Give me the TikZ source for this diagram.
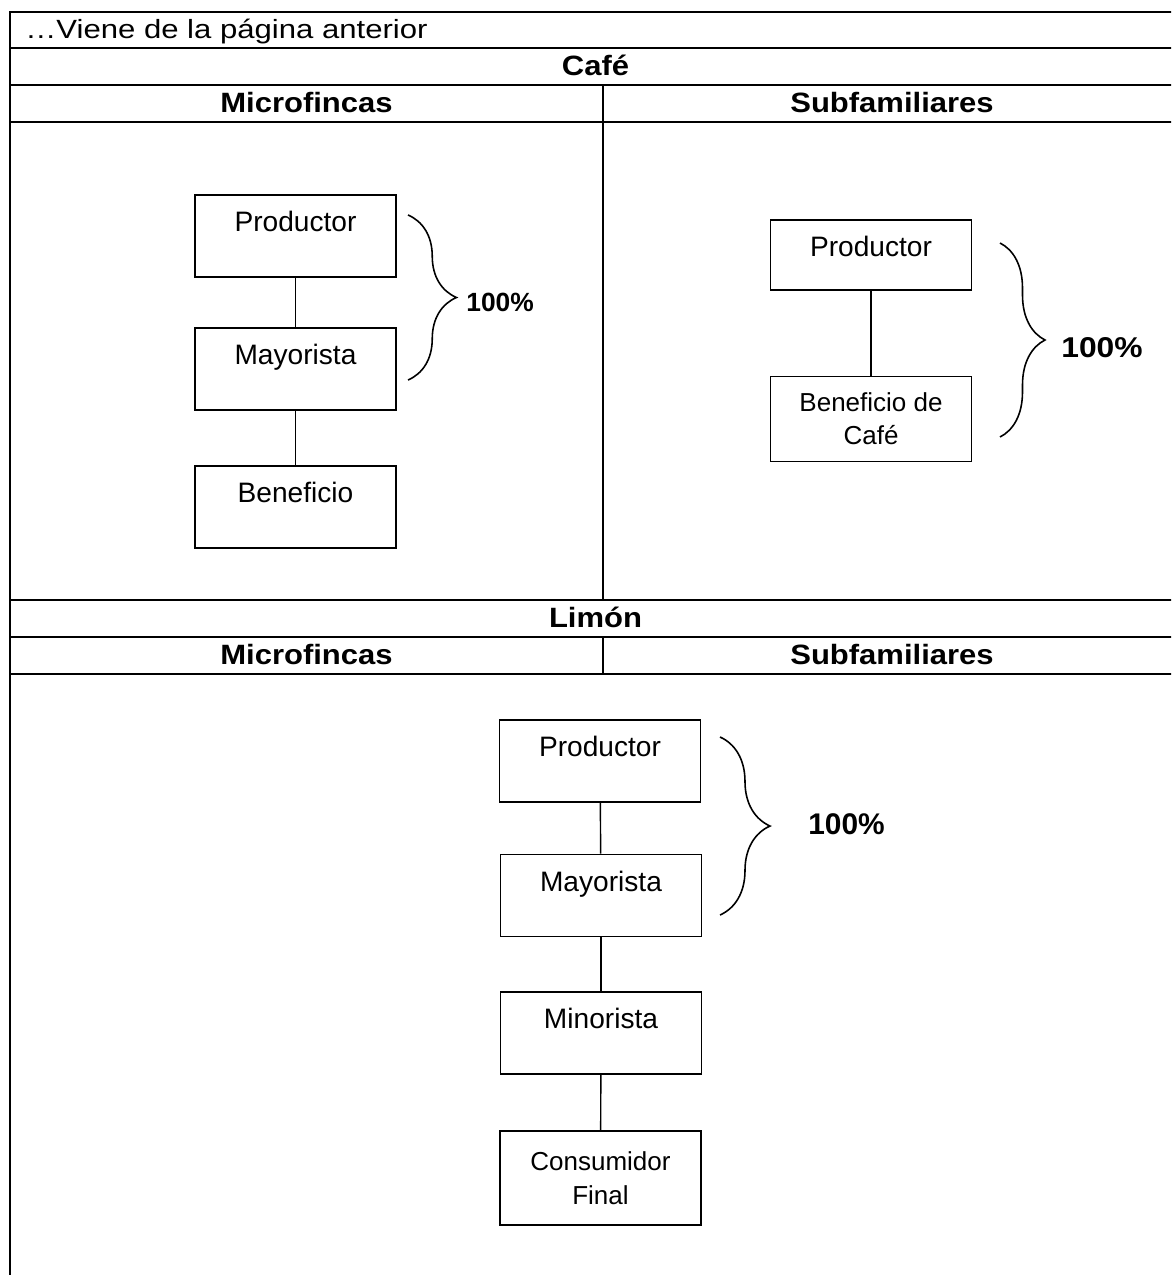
\documentclass[tikz,border=0pt]{standalone}
\usepackage{fontspec}
\setmainfont{Liberation Sans}
\newfontfamily\cabfont{Liberation Sans}[FakeStretch=1.11]
\newfontfamily\titfont{Liberation Sans}[FakeStretch=1.18]
\usetikzlibrary{calc, decorations.pathreplacing}
\tikzset{>=latex}
\tikzset{
  marco/.style={line width=1.1pt},
  caja/.style={draw, line width=1.1pt, inner sep=0pt, minimum width=4.02cm,
    text height=0.73cm, text depth=0.91cm, font=\fontsize{16}{19}\selectfont},
  cajabaja/.style={caja, text depth=0.67cm},
  cajados/.style={draw, line width=1.1pt, inner sep=0pt, minimum width=4.02cm,
    align=center, font=\fontsize{14.8}{19}\selectfont},
  enlace/.style={line width=0.8pt},
  llave/.style={decorate, decoration={brace, amplitude=#1}, line width=0.9pt},
  cabecera/.style={anchor=base, inner sep=0pt, font=\cabfont\bfseries\fontsize{15.9}{18}\selectfont},
  porcentaje/.style={anchor=west, inner sep=0pt}
}

\begin{document}
\begin{tikzpicture}[x=0.02cm, y=-0.02cm]
\useasboundingbox (0,0) rectangle (1171,1275);
\clip (0,0) rectangle (1171,1275);
% tabla
\draw[marco] (10,1285) -- (10,12) -- (1181,12) -- (1181,1285);
\foreach \y in {48,85,122,600,637,674}
  \draw[marco] (10,\y) -- (1181,\y);
\draw[marco] (603,85) -- (603,600);
\draw[marco] (603,637) -- (603,674);
\node[anchor=base west, inner sep=0pt, font=\titfont\fontsize{15}{18}\selectfont] (viene) at (25,38) {\ldots Viene de la página anterior};
\node[cabecera] (cafe) at (595.5,75) {Café};
\node[cabecera] (micro1) at (306.5,112) {Microfincas};
\node[cabecera] (sub1) at (892,112) {Subfamiliares};
\node[cabecera] (limon) at (595.5,627) {Limón};
\node[cabecera] (micro2) at (306.5,664) {Microfincas};
\node[cabecera] (sub2) at (892,664) {Subfamiliares};

% cafe - microfincas
\node[caja] (prod1) at (295.5,236) {Productor};
\node[caja] (may1) at (295.5,369) {Mayorista};
\node[caja] (ben1) at (295.5,507) {Beneficio};
\draw[enlace] (prod1) -- (may1);
\draw[enlace] (may1) -- (ben1);
\coordinate (ll1a) at (408,215);
\coordinate (ll1b) at (408,380);
\draw[llave=0.97cm] (ll1a) -- (ll1b);
\node[porcentaje, font=\bfseries\fontsize{15}{18}\selectfont] (pct1) at (466,302.5) {100\%};

% cafe - subfamiliares
\node[cajabaja] (prod2) at (871,255) {Productor};
\node[cajados, minimum height=1.7cm] (ben2) at (871,419) {Beneficio de\\Café};
\draw[enlace] (prod2) -- (ben2);
\coordinate (ll2a) at (1000,243);
\coordinate (ll2b) at (1000,437);
\draw[llave=0.9cm] (ll2a) -- (ll2b);
\node[porcentaje, font=\cabfont\bfseries\fontsize{16.3}{18}\selectfont] (pct2) at (1061,348) {100\%};

% limon
\node[caja] (prod3) at (600,761) {Productor};
\node[caja] (may3) at (601,895.5) {Mayorista};
\node[caja] (min3) at (601,1033) {Minorista};
\node[cajados, minimum height=1.88cm] (cons3) at (600.5,1178) {Consumidor\\Final};
\draw[enlace] (prod3) -- (may3);
\draw[enlace] (may3) -- (min3);
\draw[enlace] (min3) -- (cons3);
\coordinate (ll3a) at (720,737);
\coordinate (ll3b) at (720,915);
\draw[llave=1cm] (ll3a) -- (ll3b);
\node[porcentaje, font=\bfseries\fontsize{17}{18}\selectfont] (pct3) at (808,824) {100\%};
\end{tikzpicture}
\end{document}
